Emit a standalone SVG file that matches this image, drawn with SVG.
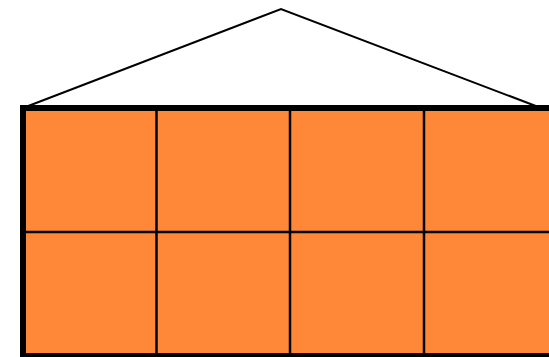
<svg xmlns="http://www.w3.org/2000/svg" width="549" height="357" viewBox="0 0 549 357">
<style>
.grid{stroke:#000;stroke-width:2.5;fill:none}
</style>
<rect width="549" height="357" fill="#fff"/>
<g id="roof"><polyline points="23,108 281,9 541,108" fill="none" stroke="#000" stroke-width="2"/></g>
<g id="body">
<rect x="23" y="108" width="536" height="248" fill="#ff8838" stroke="#000" stroke-width="6"/>
<line class="grid" x1="156.5" y1="108" x2="156.5" y2="356"/>
<line class="grid" x1="290" y1="108" x2="290" y2="356"/>
<line class="grid" x1="424" y1="108" x2="424" y2="356"/>
<line class="grid" x1="23" y1="232" x2="559" y2="232"/>
</g>
</svg>
